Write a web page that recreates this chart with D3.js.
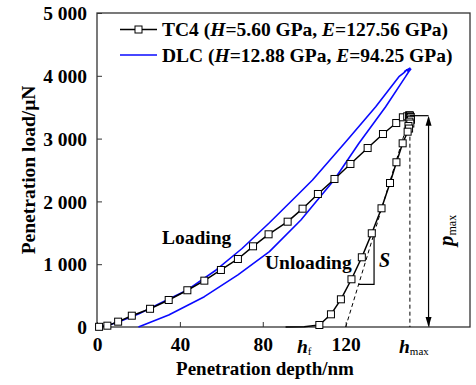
<!DOCTYPE html>
<html><head><meta charset="utf-8">
<script src="https://cdn.jsdelivr.net/npm/d3@7"></script>
<style>body{margin:0;background:#fff}svg{display:block}text{font-family:"Liberation Serif","Times New Roman",serif;font-weight:bold;fill:#000}</style>
</head><body>
<script>
// ---- data ----
const xTicks = [0, 40, 80, 120, 160];
const xTickLabels = ["0", "40", "80", "120", ""];
const yTicks = [0, 1000, 2000, 3000, 4000, 5000];
const yTickLabels = ["0", "1 000", "2 000", "3 000", "4 000", "5 000"];

const tcLoadDepth = [1, 5, 10.2, 16.8, 25.6, 34.6, 43.6, 51.8, 59.8, 68, 75.3, 82.8, 92, 99.2, 106.6, 114.6, 122.3, 130.6, 138, 144.4, 147.6, 149.7, 150.6, 151];
const tcLoadLoad  = [3, 21, 85, 180, 290, 430, 585, 738, 908, 1083, 1285, 1476, 1677, 1884, 2118, 2357, 2596, 2850, 3073, 3248, 3339, 3355, 3370, 3365];
const tcUnloadDepth = [151, 151.4, 151.1, 151.5, 150.8, 151.2, 150.3, 150.6, 149.9, 147.5, 144.5, 141.4, 137.3, 132.6, 127.8, 122.8, 117.7, 112.9, 107.3];
const tcUnloadLoad  = [3365, 3345, 3320, 3300, 3270, 3240, 3200, 3160, 3110, 2925, 2623, 2293, 1890, 1492, 1110, 760, 441, 202, 32];
const tcTailDepth = [107.3, 100, 91];
const tcTailLoad  = [32, 4, 0];

const dlcLoadDepth = [0, 5, 10, 20, 30, 43.6, 57.5, 70, 83.2, 97.6, 104, 120.8, 134.5, 145.7, 148.5];
const dlcLoadLoad  = [0, 25, 75, 205, 370, 590, 908, 1250, 1660, 2129, 2341, 2978, 3508, 3986, 4060];
const dlcHoldDepth = [149.5, 148.4, 150.4, 148.9, 151, 149.4, 151.4, 150, 151.2, 150.4];
const dlcHoldLoad  = [4095, 4070, 4110, 4080, 4120, 4090, 4105, 4075, 4095, 4065];
const dlcUnloadDepth = [150.4, 148.9, 139.3, 126.4, 114.4, 98.4, 83.2, 68, 51.8, 34.6, 20];
const dlcUnloadLoad  = [4065, 3986, 3508, 2925, 2341, 1704, 1200, 830, 483, 191, 0];

const hMax = 151, pMax = 3365, hF = 100, tangentStart = 120, arrowDepth = 160;
const sBaseLoad = 680, sDepth = 133.7;

// ---- drawing ----
const W = 476, H = 385;
const svg = d3.select("body").append("svg").attr("width", W).attr("height", H);
const x = d3.scaleLinear().domain([0, 180]).range([97, 470]);
const y = d3.scaleLinear().domain([0, 5000]).range([327, 13]);
const fs = 19.5;

// axes (ticks inward)
const xAxis = d3.axisBottom(x).tickValues(xTicks).tickSizeInner(-5).tickSizeOuter(0).tickFormat((d, i) => xTickLabels[i]).tickPadding(9);
const gx = svg.append("g").attr("transform", `translate(0,${y(0)})`).call(xAxis);
const yAxis = d3.axisLeft(y).tickValues(yTicks).tickSizeInner(-5).tickSizeOuter(0).tickFormat((d, i) => yTickLabels[i]).tickPadding(10);
const gy = svg.append("g").attr("transform", `translate(${x(0)},0)`).call(yAxis);
[gx, gy].forEach(g => {
  g.select(".domain").remove();
  g.selectAll(".tick line").attr("stroke", "#333").attr("stroke-width", 1);
  g.selectAll(".tick text").style("font-size", fs + "px").style("font-family", "Liberation Serif").style("font-weight", "bold").attr("fill", "#000");
});
gy.selectAll(".tick text").attr("dy", "0.34em");
gx.selectAll(".tick text").attr("dy", "0.75em");
// frame
svg.append("rect").attr("x", x(0)).attr("y", y(5000)).attr("width", x(180) - x(0)).attr("height", y(0) - y(5000))
  .attr("fill", "none").attr("stroke", "#333").attr("stroke-width", 1.3);

// extra x labels
const xl = svg.append("text").attr("x", x(hF)).attr("y", 353).attr("text-anchor", "middle").style("font-size", fs + "px");
xl.append("tspan").style("font-style", "italic").text("h");
xl.append("tspan").attr("dy", 2).style("font-size", "11px").style("font-weight", "normal").text("f");
const xm = svg.append("text").attr("x", x(hMax) + 4).attr("y", 353).attr("text-anchor", "middle").style("font-size", fs + "px");
xm.append("tspan").style("font-style", "italic").text("h");
xm.append("tspan").attr("dy", 2).style("font-size", "11px").style("font-weight", "normal").text("max");

// axis titles
svg.append("text").attr("x", 265).attr("y", 375).attr("text-anchor", "middle").style("font-size", "19px").text("Penetration depth/nm");
svg.append("text").attr("transform", `translate(35,170) rotate(-90)`).attr("text-anchor", "middle").style("font-size", "19.5px").text("Penetration load/μN");

const line = d3.line().x(d => x(d[0])).y(d => y(d[1]));
const zip = (a, b) => a.map((v, i) => [v, b[i]]);

// DLC curves
const blue = "#0a0aff";
svg.append("path").attr("d", line(zip(dlcLoadDepth, dlcLoadLoad).concat(zip(dlcHoldDepth, dlcHoldLoad)).concat(zip(dlcUnloadDepth, dlcUnloadLoad))))
  .attr("fill", "none").attr("stroke", blue).attr("stroke-width", 1.6).attr("stroke-linejoin", "round");

// TC4 curves
const tcLoad = zip(tcLoadDepth, tcLoadLoad), tcUnload = zip(tcUnloadDepth, tcUnloadLoad);
svg.append("path").attr("d", line(tcLoad.concat(tcUnload).concat(zip(tcTailDepth, tcTailLoad))))
  .attr("fill", "none").attr("stroke", "#000").attr("stroke-width", 1.5).attr("stroke-linejoin", "round");

// dashed lines
svg.append("line").attr("x1", x(tangentStart)).attr("y1", y(0)).attr("x2", x(hMax)).attr("y2", y(pMax))
  .attr("stroke", "#000").attr("stroke-width", 1).attr("stroke-dasharray", "4,3");
svg.append("line").attr("x1", x(hMax)).attr("y1", y(pMax)).attr("x2", x(hMax)).attr("y2", y(0))
  .attr("stroke", "#000").attr("stroke-width", 1).attr("stroke-dasharray", "4,3");

// S triangle
const slope = pMax / (hMax - tangentStart);
const sBaseDepth = tangentStart + sBaseLoad / slope;
const sTopLoad = (sDepth - tangentStart) * slope;
svg.append("polyline").attr("points", [[x(sBaseDepth), y(sBaseLoad)], [x(sDepth), y(sBaseLoad)], [x(sDepth), y(sTopLoad)]].map(p => p.join(",")).join(" "))
  .attr("fill", "none").attr("stroke", "#000").attr("stroke-width", 1.2);
svg.append("text").attr("x", x(sDepth) + 5).attr("y", 267).style("font-size", "20px").style("font-style", "italic").text("S");

// markers
const markers = tcLoad.concat(tcUnload);
svg.append("g").selectAll("rect").data(markers).join("rect")
  .attr("x", d => x(d[0]) - 3.5).attr("y", d => y(d[1]) - 3.5).attr("width", 7).attr("height", 7)
  .attr("fill", "#fff").attr("stroke", "#000").attr("stroke-width", 1);

// p_max arrow
svg.append("line").attr("x1", x(hMax)).attr("y1", y(pMax)).attr("x2", x(arrowDepth)).attr("y2", y(pMax)).attr("stroke", "#000").attr("stroke-width", 1.2);
svg.append("line").attr("x1", x(arrowDepth)).attr("y1", y(pMax) + 2).attr("x2", x(arrowDepth)).attr("y2", y(0) - 2).attr("stroke", "#000").attr("stroke-width", 1.2);
const ax = x(arrowDepth);
svg.append("path").attr("d", `M${ax},${y(pMax)} L${ax - 3},${y(pMax) + 10} L${ax + 3},${y(pMax) + 10} Z`).attr("fill", "#000");
svg.append("path").attr("d", `M${ax},${y(0)} L${ax - 3},${y(0) - 10} L${ax + 3},${y(0) - 10} Z`).attr("fill", "#000");
const pl = svg.append("text").attr("transform", `translate(453,246) rotate(-90)`).style("font-size", "21px");
pl.append("tspan").style("font-style", "italic").text("p");
pl.append("tspan").attr("dy", 3).style("font-size", "12px").style("font-weight", "normal").text("max");

// Loading / Unloading labels
svg.append("text").attr("x", 162).attr("y", 244).style("font-size", fs + "px").text("Loading");
svg.append("text").attr("x", 265).attr("y", 269).style("font-size", fs + "px").text("Unloading");

// legend
const lg = svg.append("g");
lg.append("line").attr("x1", 120).attr("x2", 157).attr("y1", 29.5).attr("y2", 29.5).attr("stroke", "#000").attr("stroke-width", 1.5);
lg.append("rect").attr("x", 135).attr("y", 26).attr("width", 7).attr("height", 7).attr("fill", "#fff").attr("stroke", "#000");
lg.append("line").attr("x1", 120).attr("x2", 157).attr("y1", 55).attr("y2", 55).attr("stroke", blue).attr("stroke-width", 1.5);
const legendRows = [
  {y: 36, name: "TC4", h: "5.60", e: "127.56"},
  {y: 61.5, name: "DLC", h: "12.88", e: "94.25"}
];
legendRows.forEach(r => {
  const t = lg.append("text").attr("x", 162).attr("y", r.y).style("font-size", fs + "px");
  t.append("tspan").text(r.name + " (");
  t.append("tspan").style("font-style", "italic").text("H");
  t.append("tspan").text("=" + r.h + " GPa, ");
  t.append("tspan").style("font-style", "italic").text("E");
  t.append("tspan").text("=" + r.e + " GPa)");
});
</script>
</body></html>
